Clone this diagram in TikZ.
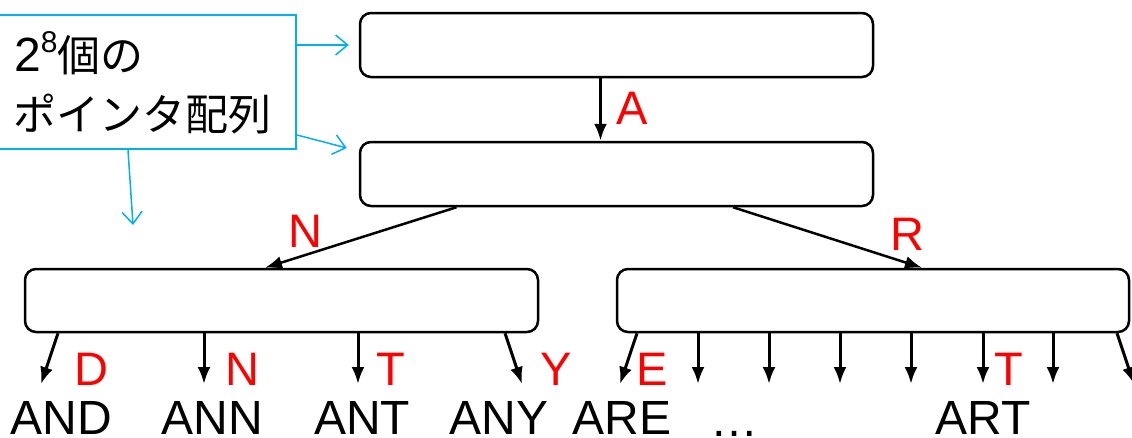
\documentclass[tikz,border=0pt]{standalone}
\usepackage{fontspec}
\setmainfont{Liberation Sans}
\newfontfamily\jp{Noto Sans CJK JP}
\usetikzlibrary{arrows.meta}
\definecolor{pblue}{RGB}{0,176,240}
\definecolor{pred}{RGB}{255,0,0}
\begin{document}
\begin{tikzpicture}[x=1pt,y=-1pt,
  box/.style={draw=black, line width=2.5pt, rounded corners=11pt, minimum width=513pt, minimum height=64pt, inner sep=0pt, fill=white},
  arr/.style={line width=3pt, -{Latex[length=17pt,width=13pt]}},
  harr/.style={line width=2.5pt, -{Latex[length=17pt,width=13pt]}},
  barr/.style={draw=pblue, line width=1.5pt, -{Straight Barb[length=12pt,width=20pt,line width=1.5pt]}},
  lbl/.style={text=pred, font=\fontsize{47}{56}\selectfont, inner sep=0pt, anchor=base},
  word/.style={font=\fontsize{48}{58}\selectfont, inner sep=0pt, anchor=base},
]
\useasboundingbox[fill=white] (0,0) rectangle (1132,437);

% boxes
\node[box] (top) at (616.5,45) {};
\node[box] (mid) at (616.5,174) {};
\node[box, minimum height=63pt] (lft) at (281.5,300.5) {};
\node[box, minimum width=512pt, minimum height=63pt] (rgt) at (873,300.5) {};

% blue annotation box
\node[draw=pblue, line width=2pt, minimum width=301pt, minimum height=134pt, inner sep=0pt] (jbox) at (145.5,82) {};
\node[anchor=base west, inner sep=0pt, font=\fontsize{48}{58}\selectfont] (t1) at (14,71)
  {2\raisebox{19pt}{\fontsize{30}{36}\selectfont 8}{\jp\fontsize{43}{52}\selectfont 個の}};
\node[anchor=base west, inner sep=0pt, font=\jp\fontsize{43}{52}\selectfont] (t2) at (13,130) {ポインタ配列};

\coordinate (bend) at (133,225);
\draw[barr] (jbox.east |- top.west) -- ([xshift=-10pt]top.west);
\draw[barr] ([yshift=-53pt]jbox.east) -- ([xshift=-12pt,yshift=26pt]mid.west);
\draw[barr] ([xshift=-17.5pt]jbox.south) -- (bend);

% tree connectors
\draw[arr] ([xshift=-16pt]top.south) -- ([xshift=-16pt]mid.north);
\node[lbl] (lA) at (632,124) {A};
\draw[harr] ([xshift=-160pt]mid.south) -- ([xshift=-16.5pt]lft.north);
\node[lbl] (lN) at (305,247) {N};
\draw[harr] ([xshift=116.5pt]mid.south) -- ([xshift=49pt]rgt.north);
\node[lbl] (lR) at (907,250) {R};

% left leaves
\coordinate (e1) at (41,384);
\coordinate (e2) at (204,384);
\coordinate (e3) at (358,384);
\coordinate (e4) at (522,384);
\draw[arr] ([xshift=-223.5pt]lft.south) -- (e1);
\draw[arr] ([xshift=-77.5pt]lft.south) -- (e2);
\draw[arr] ([xshift=76.5pt]lft.south) -- (e3);
\draw[arr] ([xshift=223.5pt]lft.south) -- (e4);
\node[lbl] (lD) at (91,385) {D};
\node[lbl] (lN2) at (242,385) {N};
\node[lbl] (lT) at (391,385) {T};
\node[lbl] (lY) at (556,385) {Y};

% right leaves
\coordinate (f1) at (620,384);
\coordinate (f2) at (698,384);
\coordinate (f3) at (769,384);
\coordinate (f4) at (840,384);
\coordinate (f5) at (911,384);
\coordinate (f6) at (983,384);
\coordinate (f7) at (1053,384);
\coordinate (f8) at (1134,384);
\draw[arr] ([xshift=-236pt]rgt.south) -- (f1);
\draw[arr] ([xshift=-175pt]rgt.south) -- (f2);
\draw[arr] ([xshift=-104pt]rgt.south) -- (f3);
\draw[arr] ([xshift=-33pt]rgt.south) -- (f4);
\draw[arr] ([xshift=38pt]rgt.south) -- (f5);
\draw[arr] ([xshift=110pt]rgt.south) -- (f6);
\draw[arr] ([xshift=180pt]rgt.south) -- (f7);
\draw[arr] ([xshift=244pt]rgt.south) -- (f8);
\node[lbl] (lE) at (652,385) {E};
\node[lbl] (lT2) at (1009,385) {T};

% words
\node[word] (wAND) at (61,434) {AND};
\node[word] (wANN) at (212,434) {ANN};
\node[word] (wANT) at (362,434) {ANT};
\node[word] (wANY) at (499,434) {ANY};
\node[word] (wARE) at (622,434) {ARE};
\node[word] (wdots) at (734,436) {…};
\node[word] (wART) at (983,434) {ART};
\end{tikzpicture}
\end{document}
